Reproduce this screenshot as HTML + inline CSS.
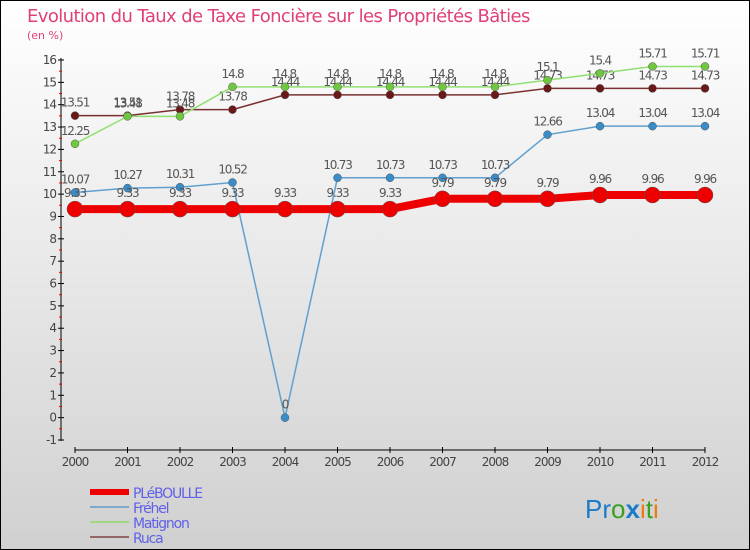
<!DOCTYPE html>
<html><head><meta charset="utf-8"><style>
body{margin:0;}
#c{width:750px;height:550px;position:relative;box-sizing:border-box;border:1px solid #000;background:linear-gradient(#fff,#d0d0d0);overflow:hidden;font-family:"DejaVu Sans","Liberation Sans",sans-serif;}
</style></head><body>
<div id="c">
<svg id="s" width="750" height="550" style="position:absolute;left:-1px;top:-1px">
<text x="27" y="22" font-size="18" fill="#e0407a" letter-spacing="-0.6">Evolution du Taux de Taxe Foncière sur les Propriétés Bâties</text>
<text x="27" y="39" font-size="11" fill="#e0407a">(en %)</text>
<g id="g"></g>
<g font-size="26" font-family="'Liberation Sans',sans-serif">
<text x="585" y="518"><tspan fill="#1a7cc8">Pr</tspan><tspan fill="#38a020">o</tspan><tspan fill="#1a7cc8" font-weight="bold">x</tspan><tspan fill="#f07a10">i</tspan><tspan fill="#38a020">t</tspan><tspan fill="#f07a10">i</tspan></text>
</g>
</svg>
</div>
<script>
const years=[2000,2001,2002,2003,2004,2005,2006,2007,2008,2009,2010,2011,2012];
const ple=[9.33,9.33,9.33,9.33,9.33,9.33,9.33,9.79,9.79,9.79,9.96,9.96,9.96];
const frehel=[10.07,10.27,10.31,10.52,0,10.73,10.73,10.73,10.73,12.66,13.04,13.04,13.04];
const matignon=[12.25,13.48,13.48,14.8,14.8,14.8,14.8,14.8,14.8,15.1,15.4,15.71,15.71];
const ruca=[13.51,13.51,13.78,13.78,14.44,14.44,14.44,14.44,14.44,14.73,14.73,14.73,14.73];
const yTicks=[-1,0,1,2,3,4,5,6,7,8,9,10,11,12,13,14,15,16];
const NS="http://www.w3.org/2000/svg";
const g=document.getElementById('g');
const X=i=>75+i*52.5;
const Y=v=>440-(v+1)*(380/17);
function mk(t,a,p){const e=document.createElementNS(NS,t);for(const k in a)e.setAttribute(k,a[k]);(p||g).appendChild(e);return e;}
let ax=mk('line',{x1:61,y1:58,x2:61,y2:441,stroke:'#000'});


let xa=mk('line',{x1:75,y1:450,x2:705,y2:450,stroke:'#000'});


yTicks.forEach(v=>{
  mk('line',{x1:58,x2:64,y1:Y(v),y2:Y(v),stroke:'#000'});
  if(v<16) mk('line',{x1:59,x2:62,y1:Y(v+0.5),y2:Y(v+0.5),stroke:'#e00'});
  const t=mk('text',{x:56,y:Y(v)+4,'font-size':12,fill:'#444','text-anchor':'end','letter-spacing':'-1'});
  t.textContent=v;
  
  
});
years.forEach((y,i)=>{
  mk('line',{x1:X(i),x2:X(i),y1:447,y2:453,stroke:'#000'});
  const t=mk('text',{x:X(i),y:466,'font-size':12,fill:'#444','text-anchor':'middle','letter-spacing':'-1'});
  t.textContent=y;
  
  
});
function series(data,color,w,r,name,dotStroke){
  const grp=mk('g',{});
  
  
  mk('polyline',{points:data.map((v,i)=>X(i)+','+Y(v)).join(' '),fill:'none',stroke:color,'stroke-width':w},grp);
  data.forEach((v,i)=>{
    const c=mk('circle',{cx:X(i),cy:Y(v),r:r,fill:dotStroke,stroke:'#555','stroke-width':0.5},grp);
    
    
    const t=mk('text',{x:X(i),y:Y(v)-(name==='ple'?12:9),'font-size':12,fill:'#555','text-anchor':'middle','letter-spacing':'-1.2'},grp);
    t.textContent=v;
    
    
  });
}
series(ruca,'#7a3030',1.5,4,'ruca','#6a1818');
series(matignon,'#90e070',1.5,4,'matignon','#70c840');
series(frehel,'#5fa0d0',1.5,4,'frehel','#3a8cc8');
series(ple,'#ee0000',8,8,'ple','#ee0000');
const leg=[['PLéBOULLE','#ee0000',6],['Fréhel','#80a8c8',2],['Matignon','#a0d880',2],['Ruca','#906868',2]];
leg.forEach((l,i)=>{
  const yy=492+i*15;
  const e=mk('g',{});
  
  
  mk('line',{x1:90,x2:129,y1:yy,y2:yy,stroke:l[1],'stroke-width':l[2]},e);
  const t=mk('text',{x:133,y:yy+6,'font-size':14,fill:'#6060e8','letter-spacing':'-1.2'},e);
  t.textContent=l[0];
});
</script>
</body></html>
